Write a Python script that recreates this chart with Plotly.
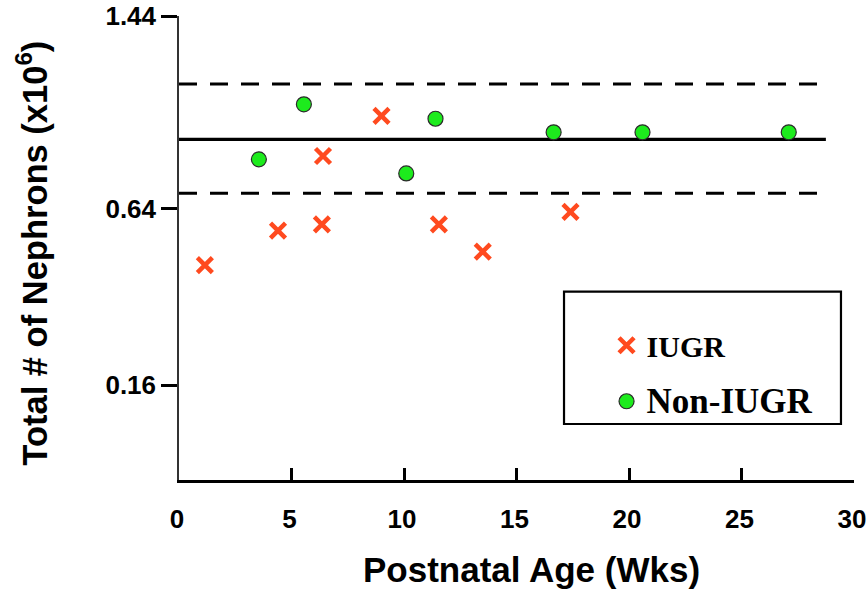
import numpy as np
import plotly.graph_objects as go

# ---- data ----
iugr_age = [1.15, 4.4, 6.35, 6.4, 9.0, 11.55, 13.5, 17.4]
iugr_nephrons = [0.459, 0.567, 0.588, 0.833, 0.993, 0.588, 0.500, 0.630]
non_iugr_age = [3.55, 5.55, 10.1, 11.4, 16.65, 20.6, 27.1]
non_iugr_nephrons = [0.820, 1.041, 0.767, 0.981, 0.926, 0.926, 0.926]

ref_mean = 0.898
ref_upper = 1.128
ref_lower = 0.695
ref_x = [0, 28.75]

x_tick_values = [0, 5, 10, 15, 20, 25, 30]
x_range = [0, 30]
y_tick_values = [0.16, 0.64, 1.44]
y_tick_labels = ["0.16", "0.64", "1.44"]
y_range = [0.0238, 1.44]

# power-scaled y axis
POWER = 0.586


def tf(v):
    return np.power(np.asarray(v, dtype=float), POWER)


SANS = "Liberation Sans, Arial, sans-serif"
SERIF = "Liberation Serif, Times New Roman, serif"

fig = go.Figure()

# reference lines
for val, dash in [(ref_upper, "18px,13px"), (ref_mean, "solid"), (ref_lower, "18px,13px")]:
    fig.add_trace(go.Scatter(
        x=ref_x, y=tf([val, val]), mode="lines",
        line=dict(color="black", width=3.2, dash=dash),
        showlegend=False, hoverinfo="skip"))

fig.add_trace(go.Scatter(
    x=iugr_age, y=tf(iugr_nephrons), mode="markers", name="IUGR",
    legendgroup="a",
    marker=dict(symbol="x-thin", size=15, color="#FF4A1F",
                line=dict(color="#FF4A1F", width=4.5))))

fig.add_trace(go.Scatter(
    x=non_iugr_age, y=tf(non_iugr_nephrons), mode="markers",
    name="<span style='font-size:35px'>Non-IUGR</span>",
    legendgroup="b",
    marker=dict(symbol="circle", size=15, color="#1DEB1D",
                line=dict(color="#2a2a2a", width=1.2))))

fig.update_layout(
    template="none",
    width=867, height=593,
    margin=dict(l=179, r=13, t=16, b=113, autoexpand=False),
    paper_bgcolor="white", plot_bgcolor="white",
    showlegend=True,
    legend=dict(x=0.6334, y=0.3464, xanchor="left", yanchor="top",
                bgcolor="rgba(0,0,0,0)", borderwidth=0,
                tracegroupgap=14,
                font=dict(family=SERIF, size=30, color="black", weight="bold")),
    xaxis=dict(range=x_range, tickvals=x_tick_values, automargin=False,
               showline=True, linewidth=3, linecolor="black",
               ticks="inside", ticklen=12, tickwidth=2.5, tickcolor="black",
               ticklabelstandoff=14, ticklabeloverflow="allow",
               ticklabelshift=-2,
               tickfont=dict(family=SANS, size=26, color="black", weight="bold"),
               showgrid=False, zeroline=False),
    yaxis=dict(range=list(tf(y_range)), tickvals=list(tf(y_tick_values)),
               ticktext=y_tick_labels, automargin=False,
               ticklabeloverflow="allow",
               showline=True, linewidth=1.5, linecolor="#333333",
               ticks="outside", ticklen=16, tickwidth=2.5, tickcolor="black",
               tickfont=dict(family=SANS, size=26, color="black", weight="bold"),
               showgrid=False, zeroline=False),
    shapes=[dict(type="rect", xref="paper", yref="paper",
                 x0=0.5704, x1=0.9807, y0=0.1207, y1=0.4058,
                 line=dict(color="black", width=2.2), fillcolor="rgba(0,0,0,0)")],
    annotations=[
        dict(text="<b>Total # of Nephrons (x10<sup>6</sup>)</b>", xref="paper", yref="paper",
             x=-0.2178, y=0.49, xanchor="center", yanchor="middle", textangle=-90,
             showarrow=False, font=dict(family=SANS, size=34.5, color="black")),
        dict(text="<b>Postnatal Age (Wks)</b>", xref="paper", yref="paper",
             x=0.5215, y=-0.192, xanchor="center", yanchor="middle",
             showarrow=False, font=dict(family=SANS, size=35, color="black")),
    ],
)

fig.write_html("out.html")
